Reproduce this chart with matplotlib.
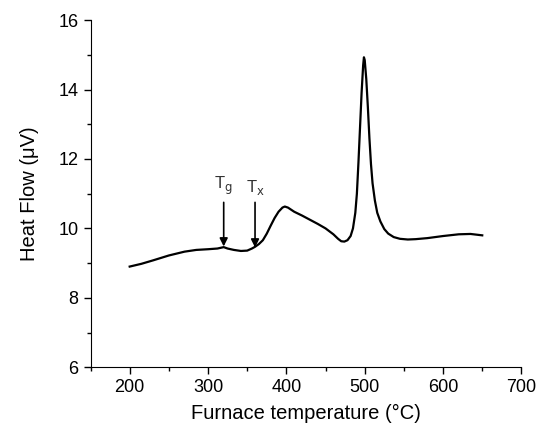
import matplotlib
matplotlib.use("Agg")
import matplotlib.pyplot as plt
from matplotlib.ticker import MultipleLocator

plt.rcParams['font.family'] = ['Liberation Sans', 'DejaVu Sans']

# DSC trace
temp = [200, 215, 230, 250, 270, 285, 300, 312, 320, 325, 333, 342, 350, 356, 360,
        365, 370, 375, 380, 385, 390, 395, 398, 402, 410, 420, 430, 440, 450, 460,
        466, 470, 474, 478, 482, 485, 488, 490, 492, 494, 496, 498, 499, 500, 502,
        504, 506, 508, 510, 513, 516, 520, 525, 530, 537, 545, 555, 565, 580, 600,
        620, 635, 650]
heat = [8.90, 8.98, 9.08, 9.22, 9.33, 9.38, 9.40, 9.42, 9.46, 9.42, 9.38, 9.35, 9.36, 9.42, 9.47,
        9.55, 9.66, 9.85, 10.08, 10.30, 10.48, 10.60, 10.63, 10.60, 10.48, 10.37, 10.25, 10.13, 10.00, 9.83,
        9.70, 9.63, 9.62, 9.66, 9.78, 10.00, 10.45, 11.00, 11.90, 12.90, 13.90, 14.70, 14.93, 14.85, 14.30,
        13.50, 12.60, 11.85, 11.30, 10.80, 10.45, 10.20, 9.98, 9.85, 9.75, 9.70, 9.68, 9.69, 9.72, 9.78,
        9.83, 9.84, 9.80]

marks = ['g', 'x']
mark_temp = [320, 360]
arrow_top = [10.75, 10.75]
arrow_tip = [9.48, 9.45]
label_y = 10.9

fig = plt.figure(figsize=(5.42, 4.29), dpi=100)
ax = fig.add_axes([0.167, 0.144, 0.795, 0.809])

ax.plot(temp, heat, color='black', lw=1.6)

for m, t, y0, y1 in zip(marks, mark_temp, arrow_top, arrow_tip):
    ax.annotate('', xy=(t, y1), xytext=(t, y0),
                arrowprops=dict(arrowstyle='-|>', color='black', lw=1.2,
                                mutation_scale=12, shrinkA=0, shrinkB=0))
    ax.text(t, label_y, 'T$_{\\mathrm{%s}}$' % m, ha='center', va='bottom',
            fontsize=12, color='#333333')

ax.set_xlim(150, 700)
ax.set_ylim(6, 16)
ax.xaxis.set_major_locator(MultipleLocator(100))
ax.xaxis.set_minor_locator(MultipleLocator(50))
ax.yaxis.set_major_locator(MultipleLocator(2))
ax.yaxis.set_minor_locator(MultipleLocator(1))
ax.tick_params(which='major', direction='out', length=5, width=1, labelsize=13)
ax.tick_params(which='minor', direction='out', length=3, width=1)
ax.spines['top'].set_visible(False)
ax.spines['right'].set_visible(False)

ax.set_xlabel('Furnace temperature (°C)', fontsize=14.5, labelpad=6)
ax.set_ylabel('Heat Flow (μV)', fontsize=14.5, labelpad=14)

fig.savefig('out.png', dpi=100)
